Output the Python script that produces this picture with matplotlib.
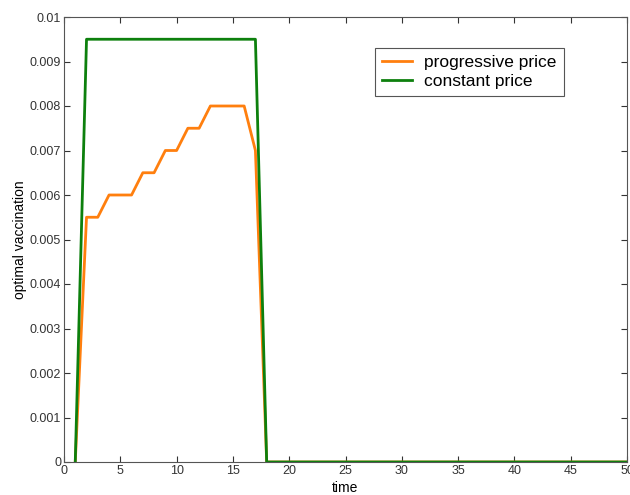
import matplotlib
matplotlib.use("Agg")
import matplotlib.pyplot as plt

plt.rcParams['font.family'] = ['Liberation Sans', 'DejaVu Sans']

time = list(range(1, 51))
progressive = [0, 0.0055, 0.0055, 0.006, 0.006, 0.006, 0.0065, 0.0065, 0.007, 0.007,
               0.0075, 0.0075, 0.008, 0.008, 0.008, 0.008, 0.007] + [0] * 33
constant = [0] + [0.0095] * 16 + [0] * 33
xticks = [0, 5, 10, 15, 20, 25, 30, 35, 40, 45, 50]
yticks = [0, 0.001, 0.002, 0.003, 0.004, 0.005, 0.006, 0.007, 0.008, 0.009, 0.01]
ytick_labels = ['0', '0.001', '0.002', '0.003', '0.004', '0.005', '0.006', '0.007', '0.008', '0.009', '0.01']

fig = plt.figure(figsize=(6.3, 4.95), dpi=100)
ax = fig.add_axes([64/630, 1-462/495, 563/630, 445/495])
ax.plot(time, progressive, color='#ff7f0e', lw=2, label='progressive price')
ax.plot(time, constant, color='#0d800d', lw=2, label='constant price')
ax.set_xlim(0, 50)
ax.set_ylim(0, 0.01)
ax.set_xticks(xticks)
ax.set_xticklabels([str(x) for x in xticks], fontsize=9)
ax.set_yticks(yticks)
ax.set_yticklabels(ytick_labels, fontsize=9)
ax.tick_params(direction='in', top=True, right=True, length=4, width=0.8, pad=2, colors='#333333')
for s in ax.spines.values():
    s.set_color('#555555')
    s.set_linewidth(0.8)
ax.set_xlabel('time', fontsize=10, labelpad=3)
ax.set_ylabel('optimal vaccination', fontsize=10, labelpad=2)
leg = ax.legend(loc='upper left', bbox_to_anchor=((375-64)/563, (462-48)/445), fontsize=12.5,
                fancybox=False, framealpha=1, edgecolor='#555555', handlelength=1.75,
                handletextpad=0.7, borderpad=0.4, labelspacing=0.2, borderaxespad=0)
leg.get_frame().set_linewidth(0.8)
fig.savefig('out.png', dpi=100)
